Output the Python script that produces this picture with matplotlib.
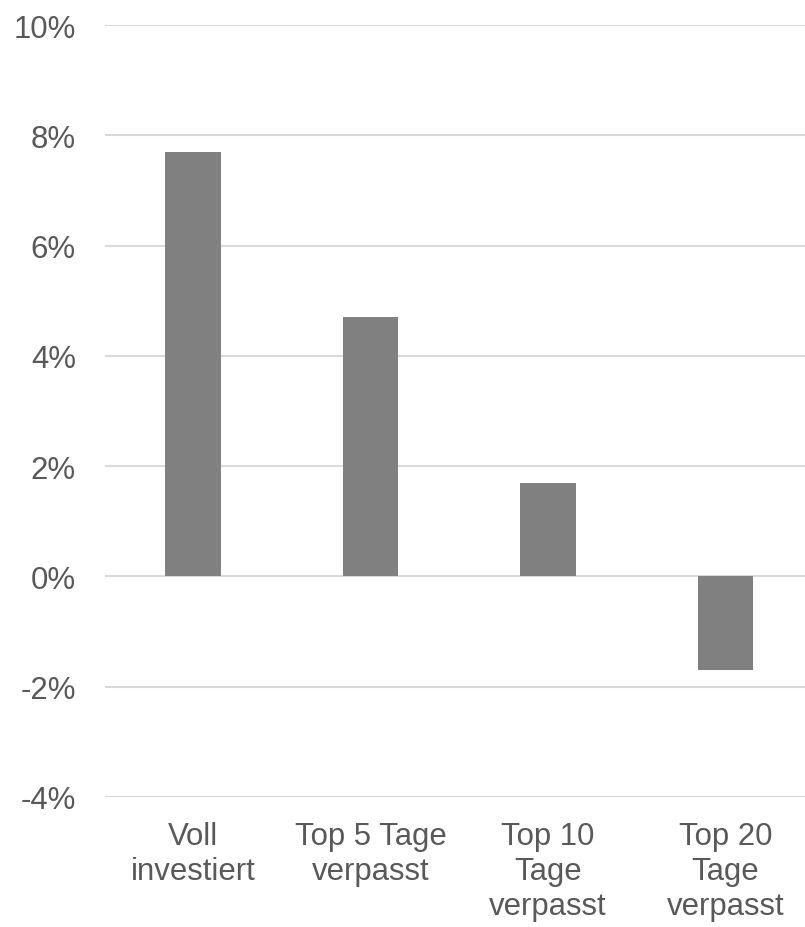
import numpy as np
import matplotlib.pyplot as plt
from matplotlib.ticker import FuncFormatter

categories = ['Voll\ninvestiert', 'Top 5 Tage\nverpasst', 'Top 10\nTage\nverpasst', 'Top 20\nTage\nverpasst']
returns = [7.7, 4.7, 1.7, -1.7]
yticks = [-4, -2, 0, 2, 4, 6, 8, 10]

plt.rcParams['font.family'] = ['Liberation Sans', 'DejaVu Sans']

fig = plt.figure(figsize=(8.05, 9.28), dpi=100)
ax = fig.add_axes([105/805, 1-798/928, 700/805, (798-26)/928])

x = np.arange(len(categories))
ax.bar(x, returns, width=0.315, color='#808080', zorder=3)

ax.set_ylim(-4, 10)
ax.set_yticks(yticks)
ax.yaxis.set_major_formatter(FuncFormatter(lambda v, p: '%d%%' % v))
ax.set_xlim(-0.496, 3.448)
ax.set_xticks(x)
ax.set_xticklabels(categories, linespacing=1.22)

ax.grid(axis='y', color='#d9d9d9', linewidth=1.5, zorder=0)
for s in ax.spines.values():
    s.set_visible(False)
ax.tick_params(axis='both', length=0, labelsize=22.4, colors='#595959')
ax.tick_params(axis='y', pad=21)
ax.tick_params(axis='x', pad=17)

fig.savefig('out.png', dpi=100)
